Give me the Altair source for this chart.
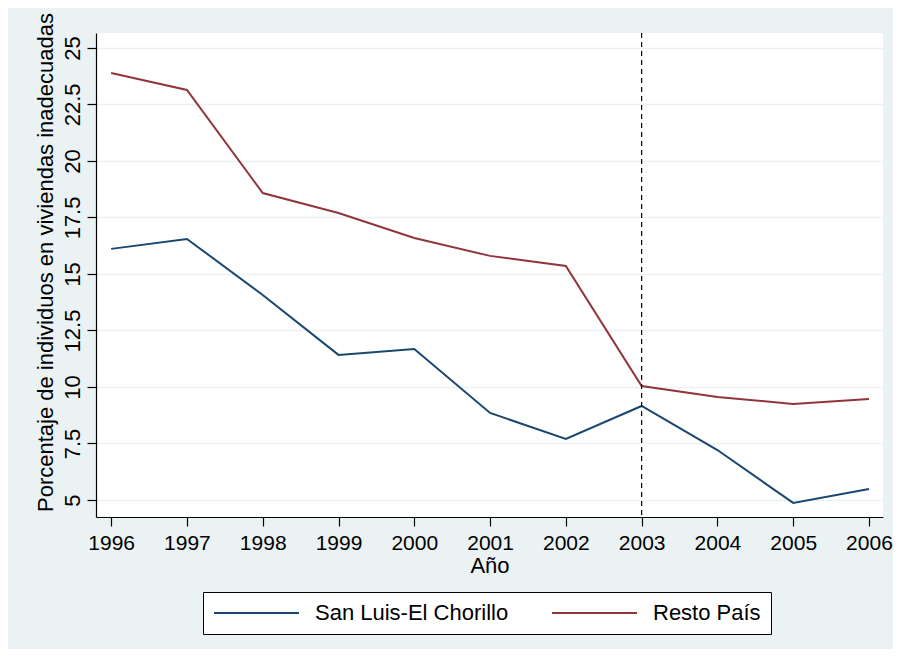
import altair as alt
import pandas as pd

years = [1996, 1997, 1998, 1999, 2000, 2001, 2002, 2003, 2004, 2005, 2006]
san_luis = [16.11, 16.55, 14.07, 11.42, 11.68, 8.85, 7.70, 9.16, 7.21, 4.87, 5.49]
resto_pais = [23.89, 23.14, 18.58, 17.70, 16.59, 15.80, 15.35, 10.04, 9.56, 9.25, 9.47]
series_names = ["San Luis-El Chorillo", "Resto País"]
series_colors = ["#1A476F", "#90353B"]
y_ticks = [5, 7.5, 10, 12.5, 15, 17.5, 20, 22.5, 25]
event_year = [2003]

rows = []
for name, vals in zip(series_names, [san_luis, resto_pais]):
    for yr, v in zip(years, vals):
        rows.append({"year": yr, "value": v, "serie": name})
df = pd.DataFrame(rows)

FONT = "Liberation Sans"
FS = 22
BG = "#EAF2F3"

x_scale = alt.Scale(domain=[1995.8, 2006.185], nice=False, zero=False)
y_scale = alt.Scale(domain=[4.248, 25.66], nice=False, zero=False)

lines = alt.Chart(df).mark_line(strokeWidth=2).encode(
    x=alt.X("year:Q", scale=x_scale,
            axis=alt.Axis(values=years, format="d", title="Año", grid=False,
                          labelFontSize=21,
                          tickSize=9, labelPadding=6, titlePadding=2)),
    y=alt.Y("value:Q", scale=y_scale,
            axis=alt.Axis(values=y_ticks, labelExpr="'' + datum.value",
                          title="Porcentaje de individuos en viviendas inadecuadas",
                          grid=True, gridColor=BG, gridWidth=1.5,
                          tickSize=9, labelPadding=8, labelAngle=-90,
                          labelAlign="center", labelBaseline="alphabetic",
                          titleAngle=-90, titleAlign="center",
                          titleBaseline="alphabetic", titleX=-44, titleY=229)),
    color=alt.Color("serie:N",
                    scale=alt.Scale(domain=series_names, range=series_colors),
                    legend=alt.Legend(title=None, orient="none", legendX=107,
                                      legendY=559, direction="horizontal",
                                      columns=2, columnPadding=42,
                                      symbolType="stroke", symbolSize=7225,
                                      symbolStrokeWidth=2, labelOffset=15,
                                      clipHeight=22, padding=10, labelLimit=400,
                                      strokeColor="black", fillColor="white",
                                      labelFontSize=FS, labelFont=FONT,
                                      labelColor="black")),
)

rule = alt.Chart(pd.DataFrame({"x": event_year})).mark_rule(
    color="black", strokeWidth=1.2, strokeDash=[5, 4]
).encode(x=alt.X("x:Q", scale=x_scale))

chart = alt.layer(lines, rule).properties(
    width=787, height=484,
    padding={"left": 88, "top": 25, "right": 10, "bottom": 132},
    autosize=alt.AutoSizeParams(type="none"),
    background=BG,
).configure_view(
    stroke=None, fill="white"
).configure_axis(
    labelFont=FONT, labelFontSize=FS, labelColor="black",
    titleFont=FONT, titleFontSize=FS, titleColor="black", titleFontWeight="normal",
    domainColor="black", domainWidth=1.2, tickColor="black", tickWidth=1.2,
)

chart.save("out.html", embed_options={"renderer": "svg", "actions": False})
